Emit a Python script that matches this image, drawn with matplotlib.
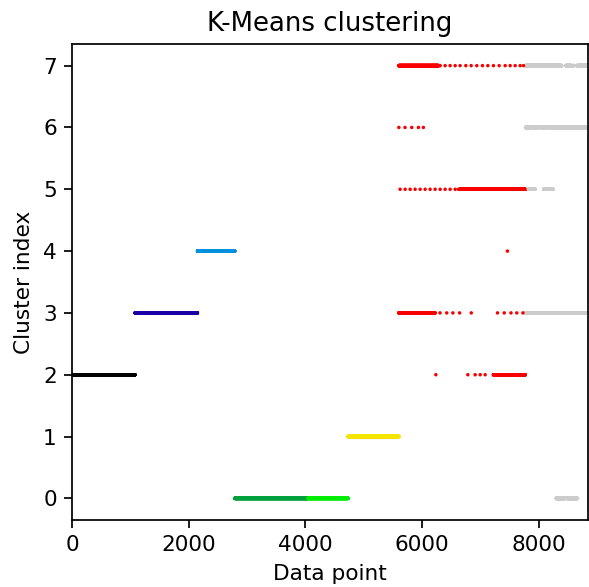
import numpy as np
import matplotlib
matplotlib.use("Agg")
import matplotlib.pyplot as plt

# the points are sorted by true class; the class changes at these indices
class_edges = [0, 1080, 2150, 2790, 4045, 4730, 5600, 7765, 8840]
n_classes = len(class_edges) - 1
n_points = class_edges[-1]

# runs of consecutive points that got the same cluster: (first, last, cluster)
runs = [
    (0, 1080, 2),
    (1080, 2150, 3),
    (2150, 2790, 4),
    (2790, 4730, 0),
    (4730, 5600, 1),
    # red class
    (5600, 6280, 7),
    (6650, 7765, 5),
    (5600, 6220, 3),
    (7220, 7765, 2),
    # grey class
    (7770, 8390, 7),
    (8460, 8560, 7),
    (8590, 8600, 7),
    (8650, 8840, 7),
    (7770, 7880, 6),
    (7900, 7990, 6),
    (8020, 8160, 6),
    (8190, 8840, 6),
    (7820, 7935, 5),
    (8080, 8240, 5),
    (7770, 8840, 3),
    (8295, 8450, 0),
    (8478, 8660, 0),
]

# isolated points seen as single dots
dots_7 = [6307, 6392, 6478, 6564, 6649, 6747, 6838, 6935, 7032, 7124,
          7220, 7318, 7421, 7506, 7592, 7678, 7735]
dots_6 = [5600, 5705, 5820, 5935, 6020]
dots_5 = [5621, 5707, 5793, 5878, 5964, 6050, 6135, 6221, 6307, 6392,
          6478, 6564, 6620]
dots_4 = [7460]
dots_3 = [6305, 6420, 6525, 6640, 6840, 7290, 7405, 7520, 7620, 7725]
dots_2 = [6233, 6781, 6907, 6993, 7078]


def montar_pontos():
    xs = []
    ys = []
    for inicio, fim, cluster in runs:
        idx = np.arange(inicio, fim)
        xs.append(idx)
        ys.append(np.full(len(idx), cluster))
    dots = {7: dots_7, 6: dots_6, 5: dots_5, 4: dots_4, 3: dots_3, 2: dots_2}
    for cluster, lista in dots.items():
        xs.append(np.array(lista))
        ys.append(np.full(len(lista), cluster))
    x = np.concatenate(xs)
    y = np.concatenate(ys)
    classe = np.searchsorted(class_edges, x, side="right") - 1
    classe = np.clip(classe, 0, n_classes - 1)
    return x, y, classe


x, y, classe = montar_pontos()

dpi = 156
fig = plt.figure(figsize=(589 / dpi, 587 / dpi), dpi=dpi)
ax = fig.add_axes([72 / 589, 67 / 587, 516 / 589, 476 / 587])
ax.scatter(x, y, c=classe / (n_classes - 1), cmap="nipy_spectral",
           vmin=0, vmax=1, s=2.6, linewidths=0)
ax.set_xlim(0, n_points)
ax.set_xlabel("Data point")
ax.set_ylabel("Cluster index")
ax.set_title("K-Means clustering")
fig.savefig("out.png", dpi=dpi)
plt.close(fig)
